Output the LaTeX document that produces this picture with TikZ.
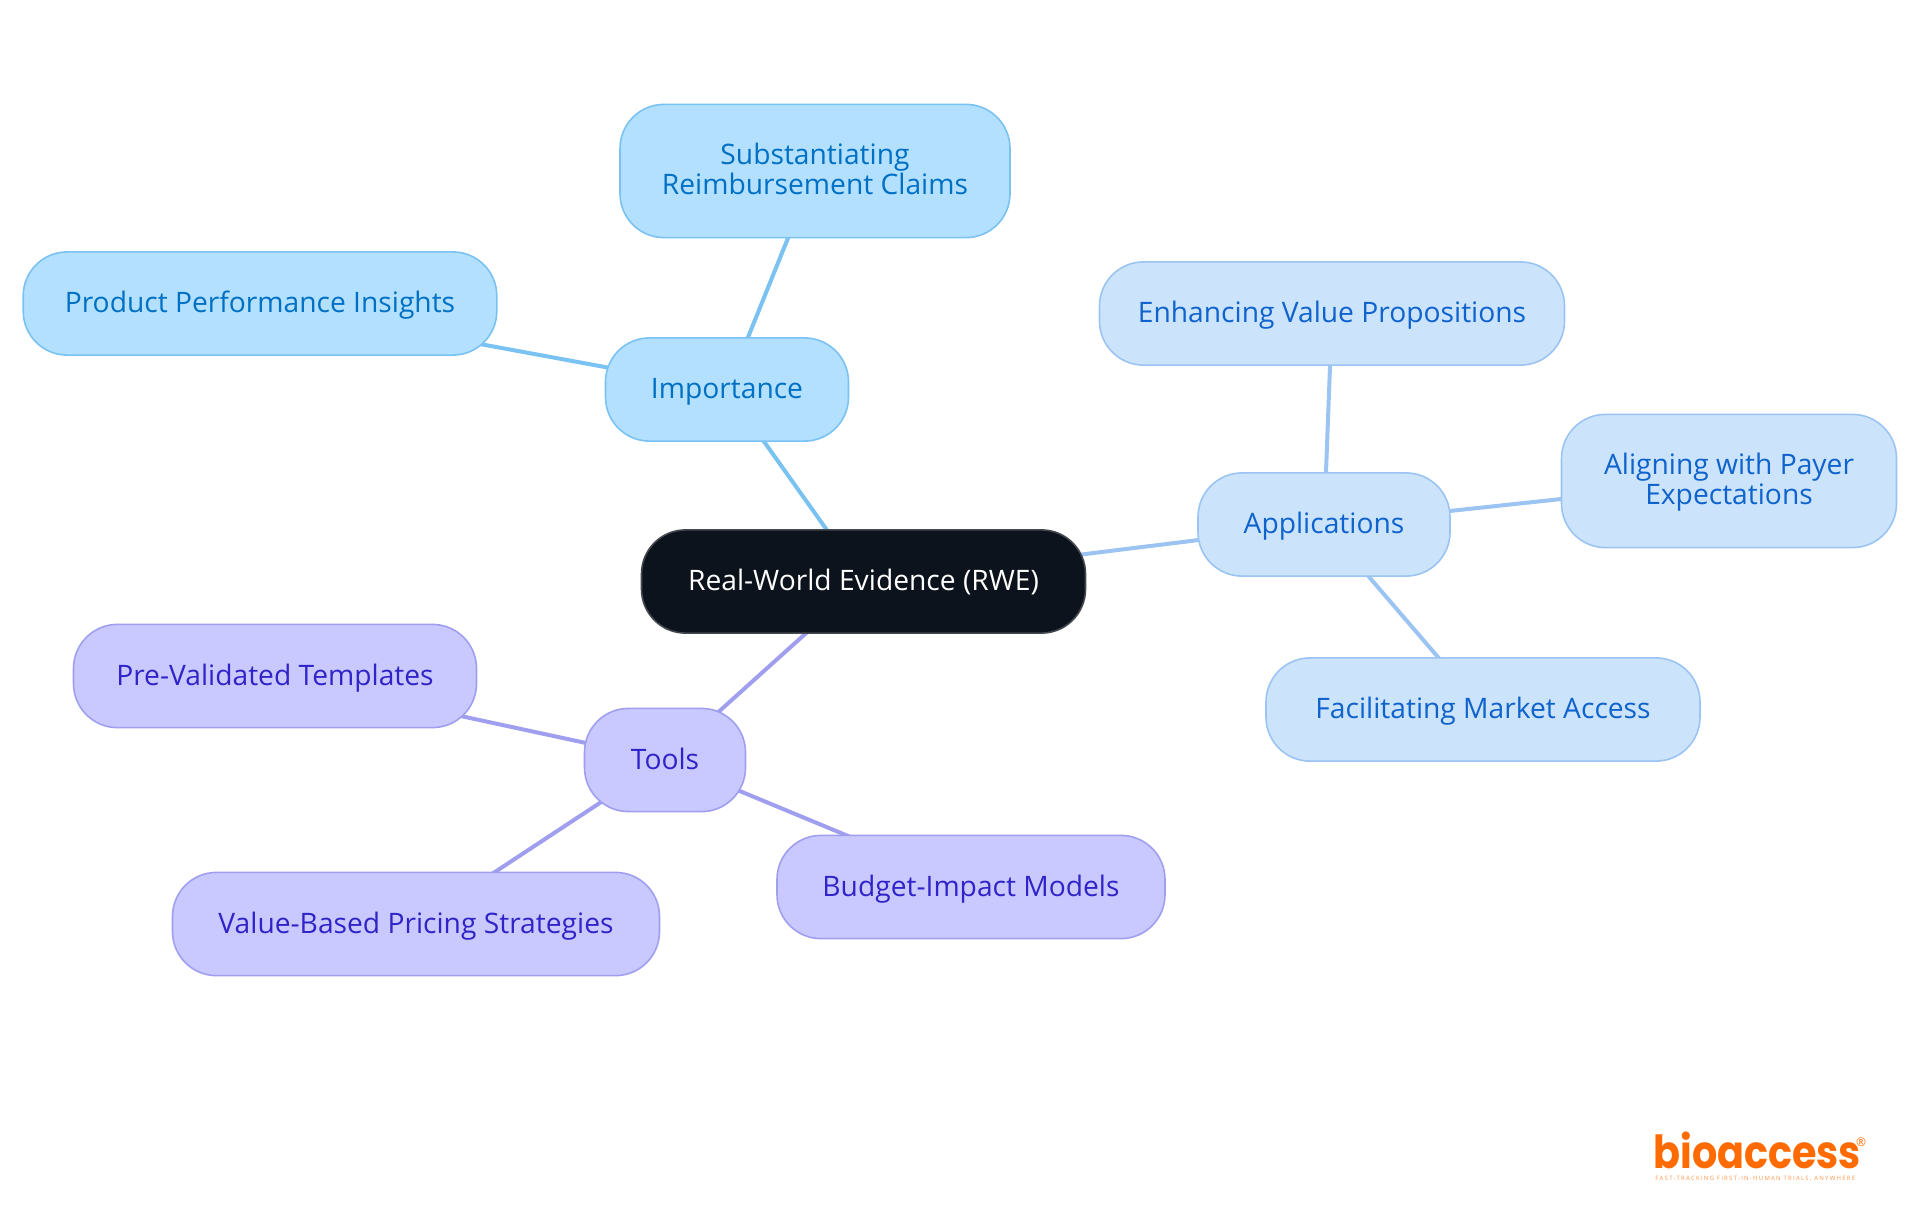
\documentclass[tikz,border=0pt]{standalone}
\usepackage{fontspec}
\setmainfont{Open Sans}
\newfontfamily\logofont{Poppins}
\newfontfamily\tagfont[LetterSpace=21]{Open Sans}
\usetikzlibrary{backgrounds}
\definecolor{rootfill}{HTML}{0D131C}
\definecolor{rootline}{HTML}{45494F}
\definecolor{skyfill}{HTML}{B3E0FF}
\definecolor{skyline}{HTML}{7AC2F2}
\definecolor{skytext}{HTML}{0070C4}
\definecolor{palefill}{HTML}{CCE3FC}
\definecolor{paleline}{HTML}{9BC4F2}
\definecolor{paletext}{HTML}{0E63CC}
\definecolor{violetfill}{HTML}{C9C9FF}
\definecolor{violetline}{HTML}{A09FEF}
\definecolor{violettext}{HTML}{3024C8}
\definecolor{logoorange}{HTML}{FF6B00}
\tikzset{
	mapnode/.style={draw, line width=0.8pt, rounded corners=22pt, inner sep=0pt, align=center,
		text height=12.4pt, text depth=3pt, font=\fontsize{14.1}{15}\selectfont},
	twolines/.style={text height=26.8pt},
	rootnode/.style={mapnode, fill=rootfill, draw=rootline, text=white},
	skynode/.style={mapnode, fill=skyfill, draw=skyline, text=skytext},
	palenode/.style={mapnode, fill=palefill, draw=paleline, text=paletext},
	violetnode/.style={mapnode, fill=violetfill, draw=violetline, text=violettext},
	maplink/.style={line width=2pt},
}
\begin{document}
\begin{tikzpicture}[x=0.5pt, y=-0.5pt]
	\useasboundingbox (0,0) rectangle (1920,1215);
	\node[rootnode, minimum width=222pt, minimum height=51.6pt] (rwe) at (863.5,581.5) {Real-World Evidence (RWE)};
	\node[skynode, minimum width=121.5pt, minimum height=51.6pt] (importance) at (727,389.5) {Importance};
	\node[skynode, twolines, minimum width=195pt, minimum height=66.6pt] (claims) at (815,171) {Substantiating\\Reimbursement Claims};
	\node[skynode, minimum width=236.8pt, minimum height=51.6pt] (insights) at (260,303.5) {Product Performance Insights};
	\node[palenode, minimum width=126pt, minimum height=51.6pt] (applications) at (1324,524.5) {Applications};
	\node[palenode, minimum width=232.5pt, minimum height=51.6pt] (propositions) at (1332,313.5) {Enhancing Value Propositions};
	\node[palenode, twolines, minimum width=167.5pt, minimum height=66.6pt] (payer) at (1729,481) {Aligning with Payer\\Expectations};
	\node[palenode, minimum width=217pt, minimum height=51.6pt] (access) at (1483,709.5) {Facilitating Market Access};
	\node[violetnode, minimum width=80.5pt, minimum height=51.6pt] (tools) at (665,760) {Tools};
	\node[violetnode, minimum width=201.5pt, minimum height=51.6pt] (templates) at (275,676) {Pre-Validated Templates};
	\node[violetnode, minimum width=243.5pt, minimum height=51.6pt] (pricing) at (416,924) {Value-Based Pricing Strategies};
	\node[violetnode, minimum width=194pt, minimum height=51.6pt] (budget) at (971,887) {Budget-Impact Models};
	\begin{scope}[on background layer]
		\foreach \a\b in {rwe/importance,importance/claims,importance/insights}{
			\draw[maplink, skyline] (\a.center) -- (\b.center);
		}
		\foreach \a\b in {rwe/applications,applications/propositions,applications/payer,applications/access}{
			\draw[maplink, paleline] (\a.center) -- (\b.center);
		}
		\foreach \a\b in {rwe/tools,tools/templates,tools/pricing,tools/budget}{
			\draw[maplink, violetline] (\a.center) -- (\b.center);
		}
	\end{scope}
	\node[anchor=base west, inner sep=0pt, xscale=0.87, text=logoorange, font=\logofont\bfseries\fontsize{22.8}{23}\selectfont] (logo) at (1653,1168) {bioaccess};
	\node[anchor=center, inner sep=0pt, text=logoorange, font=\fontsize{6}{6}\selectfont] (mark) at (1861,1142) {®};
	\node[anchor=base west, inner sep=0pt, text=logoorange!70, font=\tagfont\fontsize{3}{3}\selectfont] (tagline) at (1655,1180) {FAST-TRACKING FIRST-IN-HUMAN TRIALS, ANYWHERE};
\end{tikzpicture}
\end{document}
